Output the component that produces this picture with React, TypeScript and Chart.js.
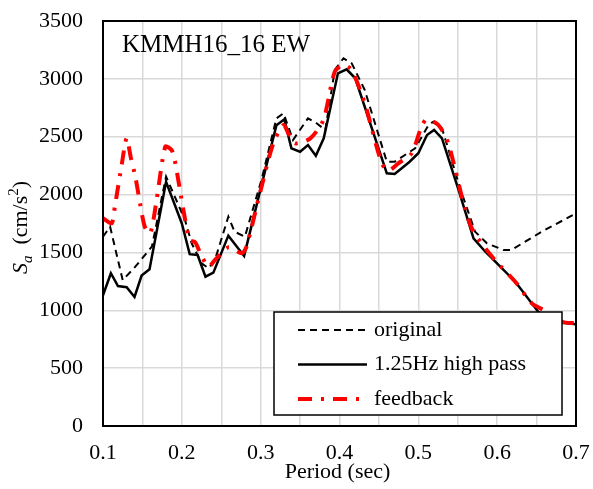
import React, { useEffect, useRef } from "react";
import { Chart, registerables } from "chart.js";

Chart.register(...registerables);

// Period (sec) and Sa (cm/s^2) for each series
const origPeriod = [0.1, 0.109, 0.125, 0.141, 0.162, 0.18, 0.204, 0.2125, 0.225, 0.234, 0.242, 0.259, 0.267, 0.28, 0.301, 0.32, 0.329, 0.341, 0.36, 0.371, 0.382, 0.394, 0.405, 0.4155, 0.432, 0.46, 0.47, 0.496, 0.513, 0.519, 0.53, 0.553, 0.572, 0.587, 0.608, 0.618, 0.6565, 0.7];
const origSa = [1636, 1722, 1260, 1377, 1550, 2155, 1780, 1579, 1406, 1363, 1435, 1809, 1679, 1636, 2126, 2659, 2702, 2472, 2659, 2616, 2558, 3077, 3178, 3134, 2904, 2284, 2284, 2400, 2601, 2630, 2573, 2054, 1679, 1579, 1521, 1521, 1679, 1838];

const hpPeriod = [0.1, 0.11, 0.119, 0.13, 0.14, 0.149, 0.159, 0.18, 0.2, 0.21, 0.22, 0.23, 0.24, 0.259, 0.279, 0.3, 0.32, 0.33, 0.339, 0.35, 0.36, 0.37, 0.38, 0.398, 0.409, 0.42, 0.46, 0.47, 0.489, 0.5, 0.511, 0.52, 0.53, 0.551, 0.57, 0.585, 0.623, 0.652, 0.67, 0.7];
const hpSa = [1130, 1320, 1210, 1200, 1115, 1300, 1355, 2110, 1750, 1485, 1478, 1290, 1325, 1645, 1470, 2050, 2600, 2650, 2400, 2370, 2428, 2336, 2486, 3048, 3082, 3005, 2184, 2178, 2284, 2357, 2515, 2558, 2486, 2040, 1622, 1506, 1247, 988, 900, 880];

const fbPeriod = [0.1, 0.111, 0.115, 0.124, 0.13, 0.1355, 0.141, 0.147, 0.153, 0.16, 0.168, 0.179, 0.187, 0.191, 0.202, 0.21, 0.217, 0.225, 0.234, 0.242, 0.259, 0.276, 0.282, 0.299, 0.316, 0.329, 0.335, 0.3435, 0.363, 0.3795, 0.394, 0.405, 0.4155, 0.432, 0.4535, 0.462, 0.4746, 0.4916, 0.504, 0.5106, 0.5254, 0.538, 0.559, 0.57, 0.597, 0.623, 0.644, 0.663, 0.682, 0.7];
const fbSa = [1795, 1752, 1895, 2270, 2486, 2313, 2155, 1924, 1722, 1665, 1953, 2414, 2385, 2299, 1867, 1607, 1587, 1469, 1377, 1435, 1544, 1492, 1550, 2011, 2443, 2601, 2530, 2443, 2486, 2644, 3062, 3120, 3077, 2789, 2270, 2207, 2270, 2357, 2587, 2650, 2601, 2443, 1881, 1679, 1435, 1247, 1060, 988, 901, 888];

const seriesNames = ["original", "1.25Hz high pass", "feedback"];
const chartTitle = "KMMH16_16 EW";
const xTitle = "Period (sec)";

const FONT = "'Liberation Serif', 'Times New Roman', serif";

const overlay = {
  id: "overlay",
  afterDatasetsDraw(chart: any) {
    const ctx = chart.ctx;
    const { left, top, right, bottom } = chart.chartArea;
    ctx.save();
    // plot border
    ctx.strokeStyle = "#000";
    ctx.lineWidth = 2;
    ctx.setLineDash([]);
    ctx.strokeRect(left, top, right - left, bottom - top);

    // title inside
    ctx.fillStyle = "#000";
    ctx.font = `25px ${FONT}`;
    ctx.textBaseline = "alphabetic";
    ctx.textAlign = "left";
    ctx.fillText(chartTitle, left + 19, top + 31);

    // legend box
    const lx0 = right - 302, ly0 = bottom - 114, lw = 288, lh = 103;
    ctx.fillStyle = "#fff";
    ctx.fillRect(lx0, ly0, lw, lh);
    ctx.strokeStyle = "#000";
    ctx.lineWidth = 1.5;
    ctx.strokeRect(lx0, ly0, lw, lh);
    const rows = [
      { color: "#000", width: 2, dash: [7, 5] },
      { color: "#000", width: 2.5, dash: [] },
      { color: "#ff0000", width: 4, dash: [14, 9, 3, 9] },
    ];
    rows.forEach((r, i) => {
      const y = ly0 + 18 + i * 34.5;
      ctx.beginPath();
      ctx.strokeStyle = r.color;
      ctx.lineWidth = r.width;
      ctx.setLineDash(r.dash);
      ctx.moveTo(lx0 + 24, y);
      ctx.lineTo(lx0 + 93, y);
      ctx.stroke();
      ctx.setLineDash([]);
      ctx.fillStyle = "#000";
      ctx.font = `22px ${FONT}`;
      ctx.textBaseline = "middle";
      ctx.fillText(seriesNames[i], lx0 + 100, y);
    });

    // x title
    ctx.font = `22px ${FONT}`;
    ctx.textAlign = "center";
    ctx.textBaseline = "middle";
    ctx.fillText(xTitle, (left + right) / 2 - 2, bottom + 46);

    // y title: S_a  (cm/s^2)
    const big = 22, small = 15;
    const parts = [
      { t: "S", f: `italic ${big}px ${FONT}`, dy: 0 },
      { t: "a", f: `italic ${small}px ${FONT}`, dy: 5 },
      { t: "  (cm/s", f: `${big}px ${FONT}`, dy: 0 },
      { t: "2", f: `${small}px ${FONT}`, dy: -9 },
      { t: ")", f: `${big}px ${FONT}`, dy: 0 },
    ];
    let total = 0;
    parts.forEach((p) => { ctx.font = p.f; total += ctx.measureText(p.t).width; });
    ctx.translate(left - 76, (top + bottom) / 2 + 4);
    ctx.rotate(-Math.PI / 2);
    ctx.textAlign = "left";
    ctx.textBaseline = "alphabetic";
    let x = -total / 2;
    parts.forEach((p) => {
      ctx.font = p.f;
      ctx.fillText(p.t, x, p.dy);
      x += ctx.measureText(p.t).width;
    });
    ctx.restore();
  },
};

export default function App() {
  const ref = useRef<HTMLCanvasElement>(null);
  useEffect(() => {
    if (!ref.current) return;
    const toPts = (xs: number[], ys: number[]) => xs.map((x, i) => ({ x, y: ys[i] }));
    const chart = new Chart(ref.current, {
      type: "line",
      data: {
        datasets: [
          {
            label: seriesNames[0],
            data: toPts(origPeriod, origSa),
            borderColor: "#000",
            borderWidth: 2,
            borderDash: [7, 5],
            pointRadius: 0,
            tension: 0,
            order: 2,
          },
          {
            label: seriesNames[1],
            data: toPts(hpPeriod, hpSa),
            borderColor: "#000",
            borderWidth: 2.5,
            pointRadius: 0,
            tension: 0,
            order: 1,
          },
          {
            label: seriesNames[2],
            data: toPts(fbPeriod, fbSa),
            borderColor: "#ff0000",
            borderWidth: 4,
            borderDash: [14, 9, 3, 9],
            pointRadius: 0,
            tension: 0.25,
            order: 0,
          },
        ],
      },
      options: {
        responsive: false,
        animation: false,
        devicePixelRatio: 1,
        layout: { padding: { left: 0, right: 17, top: 21, bottom: 0 } },
        plugins: { legend: { display: false }, tooltip: { enabled: false }, title: { display: false } },
        scales: {
          x: {
            type: "linear",
            min: 0.1,
            max: 0.7,
            afterFit: (s: any) => {
              s.height = 63;
              s.paddingLeft = 0;
              s.paddingRight = 0;
            },
            ticks: {
              stepSize: 0.05,
              color: "#000",
              padding: 14,
              maxRotation: 0,
              autoSkip: false,
              font: { family: FONT, size: 22 },
              callback: (v: any) => {
                const n = Math.round(Number(v) * 100);
                return n % 10 === 0 ? (n / 100).toFixed(1) : "";
              },
            },
            grid: { color: "#d9d9d9", lineWidth: 1.5, drawTicks: false },
            border: { display: false },
          },
          y: {
            min: 0,
            max: 3500,
            afterFit: (s: any) => {
              s.width = 103;
              s.paddingTop = 0;
              s.paddingBottom = 0;
            },
            ticks: {
              stepSize: 500,
              color: "#000",
              padding: 20,
              font: { family: FONT, size: 22 },
              callback: (v: any) => String(v),
            },
            grid: { color: "#d9d9d9", lineWidth: 1.5, drawTicks: false },
            border: { display: false },
          },
        },
      },
      plugins: [overlay],
    });
    return () => chart.destroy();
  }, []);
  return (
    <div style={{ position: "fixed", left: 0, top: 0, width: 593, height: 489, background: "#fff" }}>
      <canvas ref={ref} width={593} height={489} style={{ display: "block" }} />
    </div>
  );
}
